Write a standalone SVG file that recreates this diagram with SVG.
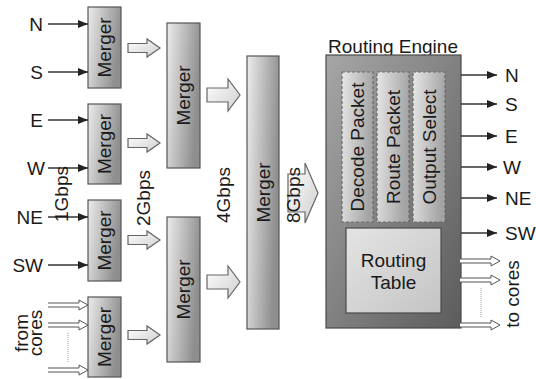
<svg xmlns="http://www.w3.org/2000/svg" width="536" height="379" viewBox="0 0 536 379">
  <defs>
    <linearGradient id="gMerger" x1="0" y1="0" x2="1" y2="0.3">
      <stop offset="0" stop-color="#ececec"/>
      <stop offset="1" stop-color="#8e8e8e"/>
    </linearGradient>
    <linearGradient id="gEngine" x1="0" y1="0" x2="1" y2="1">
      <stop offset="0" stop-color="#a6a6a6"/>
      <stop offset="1" stop-color="#5c5c5c"/>
    </linearGradient>
    <linearGradient id="gStage" x1="0" y1="0" x2="1" y2="0.2">
      <stop offset="0" stop-color="#e6e6e6"/>
      <stop offset="1" stop-color="#a4a4a4"/>
    </linearGradient>
    <linearGradient id="gTable" x1="0" y1="0" x2="1" y2="1">
      <stop offset="0" stop-color="#e4e4e4"/>
      <stop offset="1" stop-color="#c4c4c4"/>
    </linearGradient>
    <linearGradient id="gBlock" x1="0" y1="0" x2="1" y2="1">
      <stop offset="0" stop-color="#ffffff"/>
      <stop offset="1" stop-color="#cfcfcf"/>
    </linearGradient>
    <marker id="head" viewBox="0 0 10 10" refX="10" refY="5" markerWidth="10" markerHeight="10" markerUnits="userSpaceOnUse" orient="auto">
      <path d="M0,1 L10,5 L0,9 Z" fill="#222"/>
    </marker>
    <!-- thin hollow arrow, drawn pointing right from (0,0) -->
    <path id="hollow" d="M0,-2 L31,-2 L31,-5 L40,0 L31,5 L31,2 L0,2" fill="#fff" stroke="#555" stroke-width="1"/>
  </defs>
  <style>
    text { font-family: "Liberation Sans", Arial, sans-serif; fill: #1a1a1a; }
    .lbl { font-size: 18px; }
    .big { font-size: 19px; }
    .merger { fill: url(#gMerger); stroke: #555; stroke-width: 1.2; }
    .engine { fill: url(#gEngine); stroke: #4a4a4a; stroke-width: 1.2; }
    .stage { fill: url(#gStage); stroke: #6a6a6a; stroke-width: 1.2; stroke-dasharray: 3 2; }
    .table { fill: url(#gTable); stroke: #4a4a4a; stroke-width: 1.2; }
    .wire { stroke: #333; stroke-width: 1.3; fill: none; marker-end: url(#head); }
    .block { fill: url(#gBlock); stroke: #666; stroke-width: 1.2; }
    .dots { stroke: #999; stroke-width: 1; stroke-dasharray: 1 1; fill: none; }
  </style>

  <!-- first-level mergers -->
  <g id="merger1"><rect class="merger" x="88" y="7" width="33" height="81"/><text class="big" transform="translate(111,47.5) rotate(-90)" text-anchor="middle">Merger</text></g>
  <g id="merger2"><rect class="merger" x="88" y="104" width="33" height="80"/><text class="big" transform="translate(111,144) rotate(-90)" text-anchor="middle">Merger</text></g>
  <g id="merger3"><rect class="merger" x="88" y="200" width="33" height="81"/><text class="big" transform="translate(111,240.5) rotate(-90)" text-anchor="middle">Merger</text></g>
  <g id="merger4"><rect class="merger" x="88" y="297" width="33" height="80"/><text class="big" transform="translate(111,337) rotate(-90)" text-anchor="middle">Merger</text></g>

  <!-- second-level mergers -->
  <g id="merger5"><rect class="merger" x="167" y="23" width="33" height="145"/><text class="big" transform="translate(190,95.5) rotate(-90)" text-anchor="middle">Merger</text></g>
  <g id="merger6"><rect class="merger" x="167" y="217" width="33" height="145"/><text class="big" transform="translate(190,289.5) rotate(-90)" text-anchor="middle">Merger</text></g>

  <!-- third-level merger -->
  <g id="merger7"><rect class="merger" x="247" y="56" width="32" height="273"/><text class="big" transform="translate(270,192.5) rotate(-90)" text-anchor="middle">Merger</text></g>

  <!-- routing engine -->
  <g id="routing-engine">
    <text class="big" x="393" y="53" text-anchor="middle">Routing Engine</text>
    <rect class="engine" x="326" y="55" width="135" height="273"/>
  </g>
  <g id="decode-packet"><rect class="stage" x="342" y="72" width="31" height="150"/><text class="big" transform="translate(364,147) rotate(-90)" text-anchor="middle">Decode Packet</text></g>
  <g id="route-packet"><rect class="stage" x="377" y="72" width="32" height="150"/><text class="big" transform="translate(400,147) rotate(-90)" text-anchor="middle">Route Packet</text></g>
  <g id="output-select"><rect class="stage" x="413" y="72" width="32" height="150"/><text class="big" transform="translate(436,147) rotate(-90)" text-anchor="middle">Output Select</text></g>
  <g id="routing-table">
    <rect class="table" x="346" y="228" width="95" height="85"/>
    <text class="big" x="393.5" y="267" text-anchor="middle">Routing</text>
    <text class="big" x="393.5" y="289" text-anchor="middle">Table</text>
  </g>

  <!-- connectors -->
  <g id="connectors">
    <!-- direction inputs -->
    <line class="wire" x1="48" y1="24" x2="88" y2="24"/>
    <line class="wire" x1="48" y1="72" x2="88" y2="72"/>
    <line class="wire" x1="48" y1="120" x2="88" y2="120"/>
    <line class="wire" x1="48" y1="168" x2="88" y2="168"/>
    <line class="wire" x1="48" y1="217" x2="88" y2="217"/>
    <line class="wire" x1="48" y1="265" x2="88" y2="265"/>
    <!-- core inputs -->
    <use href="#hollow" x="48" y="305"/>
    <use href="#hollow" x="48" y="325"/>
    <use href="#hollow" x="48" y="370"/>
    <line class="dots" x1="68" y1="333" x2="68" y2="362"/>

    <!-- level 1 to level 2 -->
    <path class="block" d="M128,43.5 L147,43.5 L147,39 L160,48 L147,57 L147,52.5 L128,52.5 Z"/>
    <path class="block" d="M128,138.5 L147,138.5 L147,134 L160,143 L147,152 L147,147.5 L128,147.5 Z"/>
    <path class="block" d="M128,235.5 L147,235.5 L147,231 L160,240 L147,249 L147,244.5 L128,244.5 Z"/>
    <path class="block" d="M128,330.5 L147,330.5 L147,326 L160,335 L147,344 L147,339.5 L128,339.5 Z"/>

    <!-- level 2 to level 3 -->
    <path class="block" d="M207,88 L228,88 L228,79 L240,95 L228,111 L228,102 L207,102 Z"/>
    <path class="block" d="M207,275 L228,275 L228,266 L240,282 L228,298 L228,289 L207,289 Z"/>

    <!-- level 3 to routing engine -->
    <path class="block" d="M288,174 L305,174 L305,163 L318,193 L305,223 L305,212 L288,212 Z"/>

    <!-- direction outputs -->
    <line class="wire" x1="461" y1="75" x2="497" y2="75"/>
    <line class="wire" x1="461" y1="104" x2="497" y2="104"/>
    <line class="wire" x1="461" y1="136" x2="497" y2="136"/>
    <line class="wire" x1="461" y1="167" x2="497" y2="167"/>
    <line class="wire" x1="461" y1="198" x2="497" y2="198"/>
    <line class="wire" x1="461" y1="233" x2="497" y2="233"/>
    <!-- core outputs -->
    <use href="#hollow" x="460" y="261"/>
    <use href="#hollow" x="460" y="280"/>
    <use href="#hollow" x="460" y="325"/>
    <line class="dots" x1="481" y1="288" x2="481" y2="317"/>
  </g>

  <!-- port and bandwidth labels -->
  <g id="labels">
    <text class="big" x="43" y="31" text-anchor="end">N</text>
    <text class="big" x="43" y="79" text-anchor="end">S</text>
    <text class="big" x="43" y="127" text-anchor="end">E</text>
    <text class="big" x="45" y="175" text-anchor="end">W</text>
    <text class="big" x="43" y="224" text-anchor="end">NE</text>
    <text class="big" x="43" y="272" text-anchor="end">SW</text>
    <text class="big" transform="translate(28,333) rotate(-90)" text-anchor="middle">from</text>
    <text class="big" transform="translate(42,333) rotate(-90)" text-anchor="middle">cores</text>

    <text class="big" transform="translate(68,194) rotate(-90)" text-anchor="middle">1Gbps</text>
    <text class="big" transform="translate(150,198) rotate(-90)" text-anchor="middle">2Gbps</text>
    <text class="big" transform="translate(230,195) rotate(-90)" text-anchor="middle">4Gbps</text>
    <text class="big" transform="translate(300,195) rotate(-90)" text-anchor="middle">8Gbps</text>

    <text class="big" x="505" y="82">N</text>
    <text class="big" x="505" y="111">S</text>
    <text class="big" x="505" y="143">E</text>
    <text class="big" x="503" y="174">W</text>
    <text class="big" x="505" y="205">NE</text>
    <text class="big" x="505" y="240">SW</text>
    <text class="big" transform="translate(519,294) rotate(-90)" text-anchor="middle">to cores</text>
  </g>
</svg>
